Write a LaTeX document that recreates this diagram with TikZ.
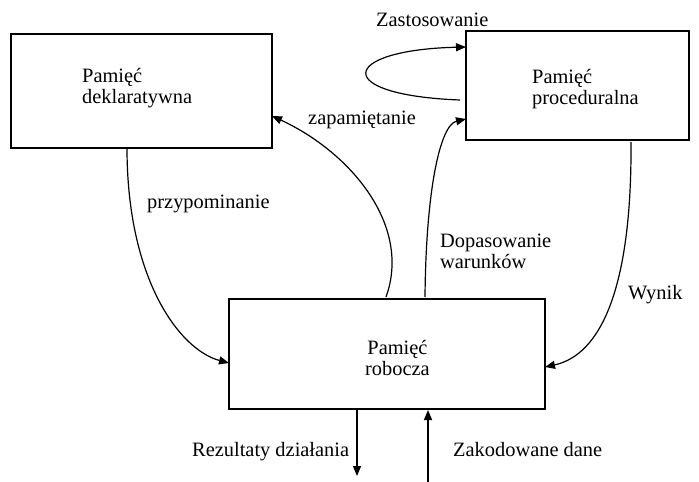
\documentclass[tikz,border=0pt]{standalone}
\usepackage{fontspec}
\setmainfont{Liberation Serif}
\usetikzlibrary{arrows.meta,calc}
\begin{document}
\begin{tikzpicture}[x=1pt,y=-1pt,
  membox/.style={draw,line width=2pt,rectangle,inner sep=0pt},
  lbl/.style={inner sep=0pt,anchor=base west,font=\fontsize{20.4}{20.4}\selectfont},
  boxtxt/.style={inner sep=0pt,anchor=base west,align=left,font=\fontsize{20.4}{20.5}\selectfont},
  conn/.style={line width=1.2pt,-{Triangle[length=10pt,width=8pt]}},
  plain/.style={line width=1.2pt}]
\useasboundingbox (0,0) rectangle (699,482);
% boxes
\node[membox,minimum width=261pt,minimum height=114pt] (decl) at (141.5,91) {};
\node[membox,minimum width=223pt,minimum height=109pt] (proc) at (577.5,85.5) {};
\node[membox,minimum width=316pt,minimum height=110pt] (wm) at (387,354) {};
% box texts (base = last line)
\node[boxtxt] (decltxt) at (82,103) {Pamięć\\deklaratywna};
\node[boxtxt] (proctxt) at (532,104) {Pamięć\\proceduralna};
\node[boxtxt,align=center] (wmtxt) at (365,375) {Pamięć\\robocza};
% connector endpoints
\coordinate (declS) at (127,148);
\coordinate (declE) at (272,116);
\coordinate (wmW) at (229,363);
\coordinate (wmE) at (545,367);
\coordinate (wmN1) at (386,297);
\coordinate (wmN2) at (425,297);
\coordinate (procW1) at (466,47);
\coordinate (procW2) at (466,119);
\coordinate (procLoop) at (460,100);
\coordinate (procS) at (631,142);
\coordinate (wmS1) at (357,410);
\coordinate (outEnd) at (357,476);
\coordinate (wmS2) at (428,410);
\coordinate (inStart) at (428,482);
% connectors
\draw[conn] (declS) .. controls (127,280) and (180,350) .. (wmW);
\draw[conn] (wmN1) .. controls (412,225) and (350,152) .. (declE);
\draw[conn] (wmN2) .. controls (426,190) and (440,125) .. (procW2);
\draw[conn] (procS) .. controls (632,290) and (600,355) .. (wmE);
\draw[conn] (procLoop) .. controls (330,95) and (340,50) .. (procW1);
\draw[conn] (wmS1) -- (outEnd);
\draw[conn] (inStart) -- (wmS2);
% labels
\node[lbl] (zast) at (376,26) {Zastosowanie};
\node[lbl] (zapam) at (308,124) {zapamiętanie};
\node[lbl] (przyp) at (147,208) {przypominanie};
\node[boxtxt] (dopas) at (440,268) {Dopasowanie\\warunków};
\node[lbl] (wynik) at (628,299) {Wynik};
\node[lbl] (rez) at (192,456) {Rezultaty działania};
\node[lbl] (zakod) at (453,456) {Zakodowane dane};
\end{tikzpicture}
\end{document}
